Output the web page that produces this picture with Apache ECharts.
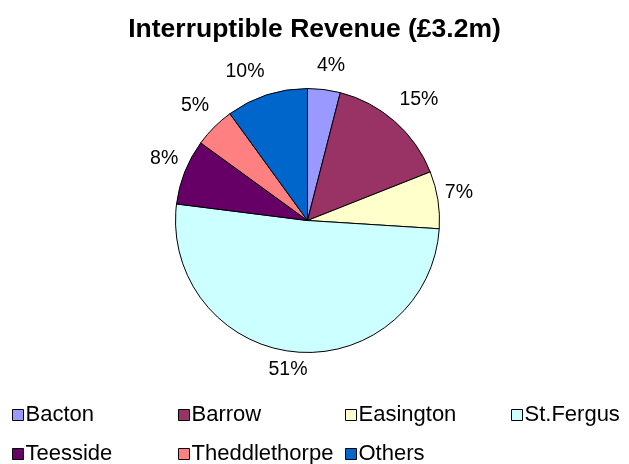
<!DOCTYPE html>
<html>
<head>
<meta charset="utf-8">
<script src="https://cdn.jsdelivr.net/npm/echarts@6/dist/echarts.min.js"></script>
<style>
  html, body { margin: 0; padding: 0; background: #ffffff; }
  #chart { width: 629px; height: 464px; }
</style>
</head>
<body>
<div id="chart"></div>
<script>
// Share of interruptible revenue by terminal (percent)
const terminals = ['Bacton', 'Barrow', 'Easington', 'St.Fergus', 'Teesside', 'Theddlethorpe', 'Others'];
const shares = [4, 15, 7, 51, 8, 5, 10];
const sliceColors = ['#9999FF', '#993366', '#FFFFCC', '#CCFFFF', '#660066', '#FF8080', '#0066CC'];

const FONT = '"Liberation Sans", Arial, sans-serif';
const CX = 307.5, CY = 220.5, R = 132;

// label placement: the label box sits just off the rim, anchored by its
// nearest edge/corner so it never overlaps the slice
const LABEL_GAP = 7;
const LABEL_BOX_H = 28;
const LABEL_LIFT = 3;

const total = shares.reduce((a, b) => a + b, 0);

// mid-angle of each slice, measured clockwise from 12 o'clock
function midAngle(i) {
  let before = 0;
  for (let k = 0; k < i; k++) before += shares[k];
  return ((before + shares[i] / 2) / total) * Math.PI * 2;
}

function clamp1(v) { return Math.max(-1, Math.min(1, v)); }

const chart = echarts.init(document.getElementById('chart'), null, { renderer: 'canvas' });

// legend laid out as a 4-column grid, two rows
const legendCols = [12, 178, 345, 511];
const legendRows = [404, 443];

const legends = terminals.map((name, i) => ({
  data: [name],
  left: legendCols[i % 4],
  top: legendRows[Math.floor(i / 4)],
  padding: 0,
  itemWidth: 11,
  itemHeight: 11,
  itemGap: 0,
  icon: 'rect',
  selectedMode: false,
  itemStyle: { borderColor: '#000000', borderWidth: 1 },
  textStyle: { fontFamily: FONT, fontSize: 22, color: '#000000', padding: [0, 0, 0, -3] }
}));

chart.setOption({
  animation: false,
  backgroundColor: '#ffffff',
  title: {
    text: 'Interruptible Revenue (£3.2m)',
    left: 'center',
    top: 16,
    padding: 0,
    textStyle: { fontFamily: FONT, fontSize: 26.5, fontWeight: 'bold', color: '#000000' }
  },
  legend: legends,
  series: [{
    type: 'pie',
    center: [CX, CY],
    radius: R,
    startAngle: 90,
    clockwise: true,
    silent: true,
    itemStyle: { borderColor: '#000000', borderWidth: 1 },
    label: {
      show: true,
      position: 'outside',
      formatter: p => p.value + '%',
      fontFamily: FONT,
      fontSize: 19.5,
      color: '#000000'
    },
    labelLine: { show: false },
    labelLayout: function (params) {
      const a = midAngle(params.dataIndex);
      const s = Math.sin(a), c = Math.cos(a);
      const w = params.labelRect.width;
      const d = R + LABEL_GAP;
      return {
        x: CX + d * s + (w / 2) * clamp1(3.5 * s),
        y: CY - d * c - (LABEL_BOX_H / 2) * clamp1(1.5 * c) - LABEL_LIFT,
        align: 'center',
        verticalAlign: 'middle'
      };
    },
    data: terminals.map((name, i) => ({
      name: name,
      value: shares[i],
      itemStyle: { color: sliceColors[i] }
    }))
  }]
});
</script>
</body>
</html>
